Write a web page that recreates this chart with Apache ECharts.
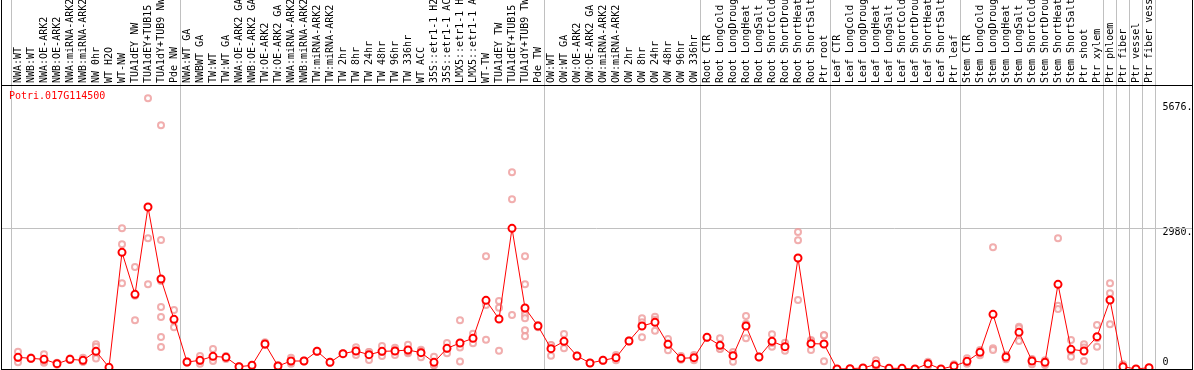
<!DOCTYPE html>
<html><head><meta charset="utf-8">
<script src="https://cdn.jsdelivr.net/npm/echarts@6/dist/echarts.min.js"></script>
<style>html,body{margin:0;padding:0;background:#fff}#c{width:1194px;height:370px}</style>
</head><body><div id="c"></div>
<script>
const geneName = 'Potri.017G114500';
const categories = [
 'NWA:WT','NWB:WT','NWA:OE-ARK2','NWB:OE-ARK2','NWA:miRNA-ARK2','NWB:miRNA-ARK2','NW 0hr','WT H2O','WT-NW','TUA1dEY NW','TUA1dEY+TUB15 NW','TUA1dY+TUB9 NW','Pde NW',
 'NWA:WT GA','NWBWT GA','TW:WT','TW:WT GA','NWA:OE-ARK2 GA','NWB:OE-ARK2 GA','TW:OE-ARK2','TW:OE-ARK2 GA','NWA:miRNA-ARK2 GA','NWB:miRNA-ARK2 GA','TW:miRNA-ARK2','TW:miRNA-ARK2',
 'TW 2hr','TW 8hr','TW 24hr','TW 48hr','TW 96hr','TW 336hr','WT ACC','35S::etr1-1 H2O','35S::etr1-1 ACC','LMX5::etr1-1 H2O','LMX5::etr1-1 ACC','WT-TW','TUA1dEY TW','TUA1dEY+TUB15 TW','TUA1dY+TUB9 TW','Pde TW',
 'OW:WT','OW:WT GA','OW:OE-ARK2','OW:OE-ARK2 GA','OW:miRNA-ARK2','OW:miRNA-ARK2','OW 2hr','OW 8hr','OW 24hr','OW 48hr','OW 96hr','OW 336hr',
 'Root CTR','Root LongCold','Root LongDrought','Root LongHeat','Root LongSalt','Root ShortCold','Root ShortDrought','Root ShortHeat','Root ShortSalt','Ptr root',
 'Leaf CTR','Leaf LongCold','Leaf LongDrought','Leaf LongHeat','Leaf LongSalt','Leaf ShortCold','Leaf ShortDrought','Leaf ShortHeat','Leaf ShortSalt','Ptr leaf',
 'Stem CTR','Stem LongCold','Stem LongDrought','Stem LongHeat','Stem LongSalt','Stem ShortCold','Stem ShortDrought','Stem ShortHeat','Stem ShortSalt','Ptr shoot','Ptr xylem',
 'Ptr phloem','Ptr fiber','Ptr vessel','Ptr fiber vessel'
];
const meanValues = [
 304,283,263,173,263,242,429,97,2482,1611,3422,1929,1092,
 207,242,325,304,111,138,581,124,228,228,429,200,380,436,360,429,436,456,401,200,491,601,698,1486,1099,2980,1327,954,
 484,636,332,187,242,297,643,954,1030,574,283,297,
 719,553,339,954,311,636,525,2364,588,581,
 62,69,83,159,76,76,62,173,62,124,
 221,408,1196,311,823,228,200,1818,470,436,733,
 1493,111,62,90
];
const replicateValues = [
 [422,200,290],[300,270,280],[366,194,229],[190,150,180],[280,250,260],[297,214,215],[574,525,339,280],[97],
 [2980,2648,1839],[2178,1072,1583],[5676,2772,1818],[5116,2738,1887,1348,1141,726,518],[1286,926,1064],
 [225,190,207],[332,173,221],[477,270,228],[332,270,310],[120,100,111],[146,130,138],[615,560,568],[138,110,124],
 [297,173,214],[236,220,228],[440,420,429],[210,190,200],[390,370,380],[512,353,443],[415,249,415],[539,332,415],
 [505,353,449],[567,387,415],[463,304,436],[318,145,138],[601,387,484],[1072,510,220],[795,595,705],
 [2399,1390,669],[1472,1334,442],[4141,3581,1182],[2399,1818,1251,1182,1113,864,740],[926,975,961],
 [560,339,553],[788,491,629],[344,320,332],[194,180,187],[254,230,242],[352,242,297],[656,630,643],
 [1113,719,1030],[1148,857,1085],[684,449,589],[332,260,257],[353,242,296],
 [728,710,719],[698,477,484],[387,214,416],[1161,698,1003],[322,300,311],[781,525,602],[608,442,525],
 [2903,2731,1493],[664,456,644],[760,221,762],
 [62],[69],[83],[242,111,124],[76],[76],[62],[214,124,181],[62],[159,90,124],
 [283,173,207],[456,422,346],[2585,491,456],[353,263,317],[940,906,643],[270,159,255],[242,145,213],
 [2772,1376,1307],[664,318,428],[574,228,506],[975,525,699],
 [1839,1631,989],[159,111,63],[62],[90]
];
const groupStarts = [0,13,41,53,63,73,84,85,86,87];
const yTickValues = [0,2980,5676];
const gridValues = [2980];

const font = 'DejaVu Sans Mono';
const chart = echarts.init(document.getElementById('c'), null, {renderer:'canvas'});
const repData = [];
replicateValues.forEach((arr,i)=>arr.forEach(v=>repData.push([i,v])));
const sepData = groupStarts.map(i=>[i,-0.5]).concat([[categories.length-1,0.5]]);
const yMaxTick = Math.max.apply(null, yTickValues);

const option = {
 animation:false,
 backgroundColor:'#fff',
 title:{text:geneName,left:9,top:91,padding:0,textStyle:{fontFamily:font,fontSize:10,fontWeight:'normal',color:'#ff0000'}},
 grid:{left:11.5,right:38.5,top:85,bottom:-2,containLabel:false,outerBoundsMode:'none'},
 xAxis:{type:'category',data:categories,position:'top',boundaryGap:true,
  axisLine:{show:false},axisTick:{show:false},splitLine:{show:false},
  axisLabel:{interval:0,rotate:90,margin:2,fontFamily:font,fontSize:10,color:'#000',hideOverlap:false}},
 yAxis:{type:'value',position:'right',min:0,max:5952,
  splitLine:{show:false},axisLine:{show:false},axisTick:{show:false},
  axisLabel:{customValues:yTickValues,margin:7,fontFamily:font,fontSize:10,color:'#000',
   formatter:function(v){ if(v===0) return '{z|0}'; if(v===yMaxTick) return '{t|'+v+'.}'; return '{m|'+v+'.}'; },
   rich:{
    z:{fontFamily:font,fontSize:10,color:'#000',padding:[0,0,20,0]},
    t:{fontFamily:font,fontSize:10,color:'#000',padding:[18,0,0,0]},
    m:{fontFamily:font,fontSize:10,color:'#000',padding:[8,0,0,0]}
   }}},
 graphic:[
  {type:'line',silent:true,z:100,shape:{x1:1.5,y1:0,x2:1.5,y2:370},style:{stroke:'#000',lineWidth:1}},
  {type:'line',silent:true,z:100,shape:{x1:1192.5,y1:0,x2:1192.5,y2:370},style:{stroke:'#000',lineWidth:1}},
  {type:'line',silent:true,z:100,shape:{x1:1,y1:369.5,x2:1193,y2:369.5},style:{stroke:'#000',lineWidth:1}},
  {type:'line',silent:true,z:100,shape:{x1:1,y1:85.5,x2:1193,y2:85.5},style:{stroke:'#000',lineWidth:1}}
 ],
 series:[
  {type:'custom',data:sepData,clip:false,silent:true,z:1,encode:{x:0,y:1},
   renderItem:function(params,api){
    const bw = api.size([1,0])[0];
    const x = Math.round(api.coord([api.value(0),0])[0] + api.value(1)*bw - 0.5) + 0.5;
    return {type:'line',shape:{x1:x,y1:0,x2:x,y2:api.getHeight()},style:{stroke:'#c0c0c0',lineWidth:1}};
   }},
  {type:'custom',data:gridValues.map(v=>[0,v]),clip:false,silent:true,z:1,encode:{x:0,y:1},
   renderItem:function(params,api){
    const y = Math.round(api.coord([0,api.value(1)])[1] - 0.5) + 0.5;
    return {type:'line',shape:{x1:1,y1:y,x2:api.getWidth()-2,y2:y},style:{stroke:'#c0c0c0',lineWidth:1}};
   }},
  {type:'scatter',data:repData,symbol:'emptyCircle',symbolSize:6,z:2,silent:true,
   itemStyle:{color:'#ee9a9a',borderColor:'#ee9a9a',borderWidth:1.3}},
  {type:'line',data:meanValues,symbol:'emptyCircle',symbolSize:7,showAllSymbol:true,z:3,silent:true,
   lineStyle:{color:'#ff0000',width:1},itemStyle:{color:'#ff0000',borderColor:'#ff0000',borderWidth:1.6}}
 ]
};
chart.setOption(option);
</script></body></html>
